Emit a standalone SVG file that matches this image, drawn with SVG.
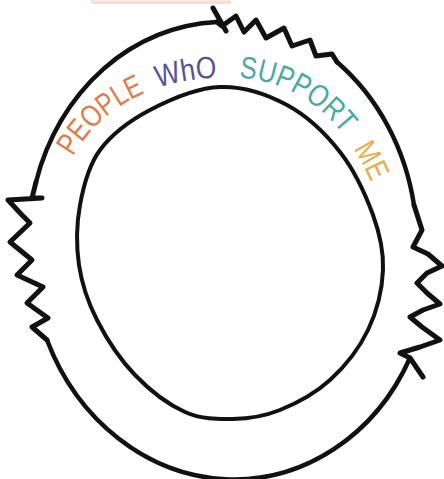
<svg xmlns="http://www.w3.org/2000/svg" width="444" height="479" viewBox="0 0 444 479">
<style>
.ring{fill:none;stroke:#111;stroke-linecap:round;stroke-linejoin:round}
.sq{stroke-width:5}
.lbl{font-family:"Liberation Sans",Arial,sans-serif;font-size:31px}
</style>
<defs>
<path id="arc" d="M 70,162 C 97,110 150,80 215,78 C 285,72 345,110 377,197"/>
</defs>
<rect width="444" height="479" fill="#fff"/>
<rect x="92" y="-10" width="138" height="13" fill="#fbe9df" stroke="#f0c9b5" stroke-width="1"/>
<g id="outer-ring">
<path class="ring" stroke-width="4.5" d="M 217,22 A 200 225 -4 0 0 36,182"/>
<path class="ring sq" d="M 36,182 L 32,198 L 42,198 L 8,200 L 22,215 L 30,223 L 10,242 L 32,260 L 17,275 L 43,287 L 27,303 L 48,318 L 32,327 L 47,340"/>
<path class="ring" stroke-width="4.5" d="M 47,340 A 200 225 -4 0 0 410,358"/>
<path class="ring sq" d="M 410,358 L 400,353 L 420,347 L 440,340 L 422,327 L 410,317 L 423,310 L 440,304 L 427,293 L 417,283 L 427,273 L 442,266 L 428,254 L 413,247 L 422,230 L 414,205 M 410,358 L 423,377"/>
<path class="ring" stroke-width="4.5" d="M 414,205 A 200 225 -4 0 0 337,62"/>
<path class="ring sq" d="M 337,62 L 332,54 L 316,56 L 310,40 L 292,46 L 284,28 L 266,38 L 256,20 L 244,32 L 236,16 L 222,26 L 217,22 M 213,8 L 226,31"/>
</g>
<g id="inner-ring">
<path class="ring" stroke-width="4" d="M 220,87 C 242.8,86.2 267,94.2 287,105 C 307,115.8 325.7,133.7 340,152 C 354.3,170.3 365.8,195.3 373,215 C 380.2,234.7 383.8,250.8 383,270 C 382.2,289.2 376.8,311.7 368,330 C 359.2,348.3 344.7,366.7 330,380 C 315.3,393.3 296.2,403.5 280,410 C 263.8,416.5 248.8,418.7 233,419 C 217.2,419.3 201.3,419.3 185,412 C 168.7,404.7 149.7,390.3 135,375 C 120.3,359.7 106.3,338.3 97,320 C 87.7,301.7 81.8,284.2 79,265 C 76.2,245.8 76.5,224.2 80,205 C 83.5,185.8 88.3,165.8 100,150 C 111.7,134.2 130,120.5 150,110 C 170,99.5 197.2,87.8 220,87 Z"/>
</g>
<g id="title">
<text class="lbl" fill="#e07b4a"><textPath href="#arc" startOffset="6" textLength="98" lengthAdjust="spacingAndGlyphs">PEOPLE</textPath></text>
<text class="lbl" fill="#5a4f9a"><textPath href="#arc" startOffset="118" textLength="60" lengthAdjust="spacingAndGlyphs">WhO</textPath></text>
<text class="lbl" fill="#48a9a0"><textPath href="#arc" startOffset="200" textLength="122" lengthAdjust="spacingAndGlyphs">SUPPORT</textPath></text>
<text class="lbl" fill="#e7ad55"><textPath href="#arc" startOffset="340" textLength="38" lengthAdjust="spacingAndGlyphs">ME</textPath></text>
</g>
</svg>
